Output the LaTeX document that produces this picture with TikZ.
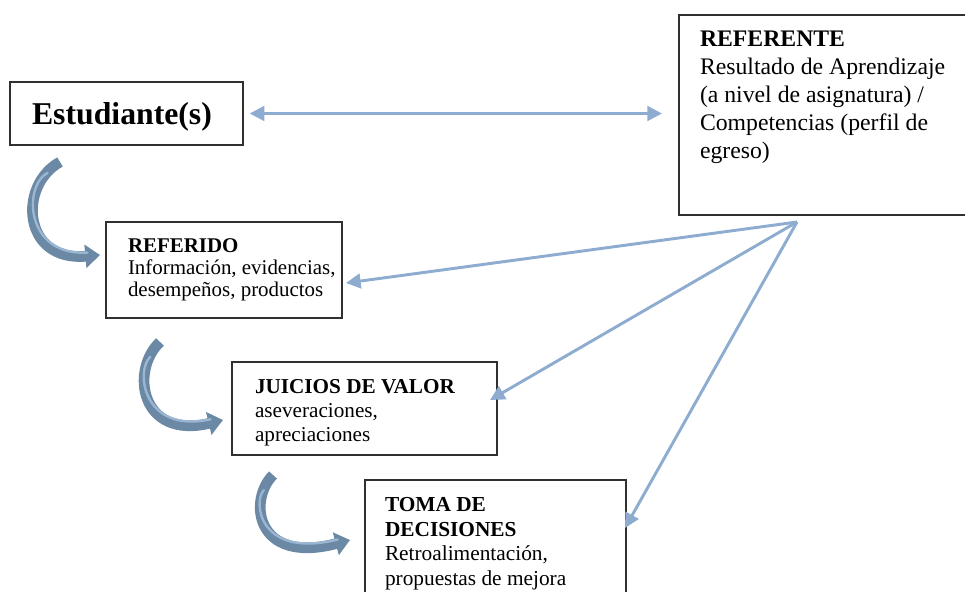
\documentclass[tikz,border=0pt]{standalone}
\usepackage{fontspec}
\setmainfont{Liberation Serif}
\usetikzlibrary{arrows.meta}
\definecolor{linkblue}{HTML}{8DACD0}
\definecolor{curvedark}{HTML}{6B88A4}
\definecolor{curvelight}{HTML}{9AB6D2}
\definecolor{boxline}{HTML}{303030}
\begin{document}
\begin{tikzpicture}[x=0.75pt,y=-0.75pt,
  box/.style={draw=boxline,line width=0.9pt,rectangle,anchor=north west,inner sep=0pt,outer sep=0pt},
  txt/.style={anchor=north west,inner sep=0pt,outer sep=0pt,align=left},
  link/.style={draw=linkblue,line width=2.2pt,-{Triangle[length=11pt,width=11pt]}},
  curvebody/.style={draw=curvedark,line width=8pt,-{Triangle[length=11pt,width=17pt]}},
  curvehl/.style={draw=curvelight,line width=1.8pt,line cap=round}]
\useasboundingbox (0,0) rectangle (965,592);

% boxes
\node[box,minimum width=233*0.75pt,minimum height=63*0.75pt] (estbox) at (10,82) {};
\node[box,minimum width=300*0.75pt,minimum height=200*0.75pt] (refbox) at (679,15) {};
\node[box,minimum width=236*0.75pt,minimum height=96*0.75pt] (refdbox) at (106,222) {};
\node[box,minimum width=265*0.75pt,minimum height=93*0.75pt] (juicbox) at (232,362) {};
\node[box,minimum width=261*0.75pt,minimum height=130*0.75pt] (tomabox) at (365,480) {};

% texts
\node[inner sep=0pt,font=\bfseries\fontsize{23.8}{28}\selectfont] (est) at (122,117) {Estudiante(s)};
\node[txt,font=\fontsize{17.8}{21}\selectfont] (reftxt) at (700,31)
  {\textbf{REFERENTE}\\Resultado de Aprendizaje\\(a nivel de asignatura) /\\Competencias (perfil de\\egreso)};
\node[txt,font=\fontsize{15.7}{16.5}\selectfont] (refdtxt) at (128,239)
  {\textbf{REFERIDO}\\Información, evidencias,\\desempeños, productos};
\node[txt,font=\fontsize{15.9}{18}\selectfont] (juictxt) at (255,379)
  {\textbf{JUICIOS DE VALOR}\\aseveraciones,\\apreciaciones};
\node[txt,font=\fontsize{16}{18.4}\selectfont] (tomatxt) at (385,497.6)
  {\textbf{TOMA DE}\\\textbf{DECISIONES}\\Retroalimentación,\\propuestas de mejora};

% straight connectors
\coordinate (src) at (797,222);
\draw[link,{Triangle[length=11pt,width=11pt]}-{Triangle[length=11pt,width=11pt]},shorten <=5pt,shorten >=12.75pt]
  (estbox.east) -- (estbox.east -| refbox.west);
\draw[link] (src) -- ([shift={(4,13)}]refdbox.east);
\draw[link] (src) -- ([shift={(-7,-8.5)}]juicbox.east);
\draw[link] (src) -- ([shift={(-1,-17)}]tomabox.east);

% curved arrows (body + lighter inner stripe)
\coordinate (c1s) at (60,162);
\coordinate (c1e) at (100,255);
\draw[curvebody] (c1s) .. controls (18,185) and (22,262) .. (c1e);
\draw[curvehl,shorten <=14pt,shorten >=8pt] (c1s) ++(4,2) .. controls (23,186) and (25,256) .. ([shift={(-2,-3)}]c1e);

\coordinate (c2s) at (160,342);
\coordinate (c2e) at (223,420);
\draw[curvebody] (c2s) .. controls (130,370) and (140,440) .. (c2e);
\draw[curvehl,shorten <=14pt,shorten >=8pt] (c2s) ++(4,2) .. controls (135,371) and (143,434) .. ([shift={(-2,-3)}]c2e);

\coordinate (c3s) at (273,475);
\coordinate (c3e) at (350,540);
\draw[curvebody] (c3s) .. controls (248,500) and (255,565) .. (c3e);
\draw[curvehl,shorten <=14pt,shorten >=8pt] (c3s) ++(4,2) .. controls (253,501) and (258,559) .. ([shift={(-2,-3)}]c3e);
\end{tikzpicture}
\end{document}
